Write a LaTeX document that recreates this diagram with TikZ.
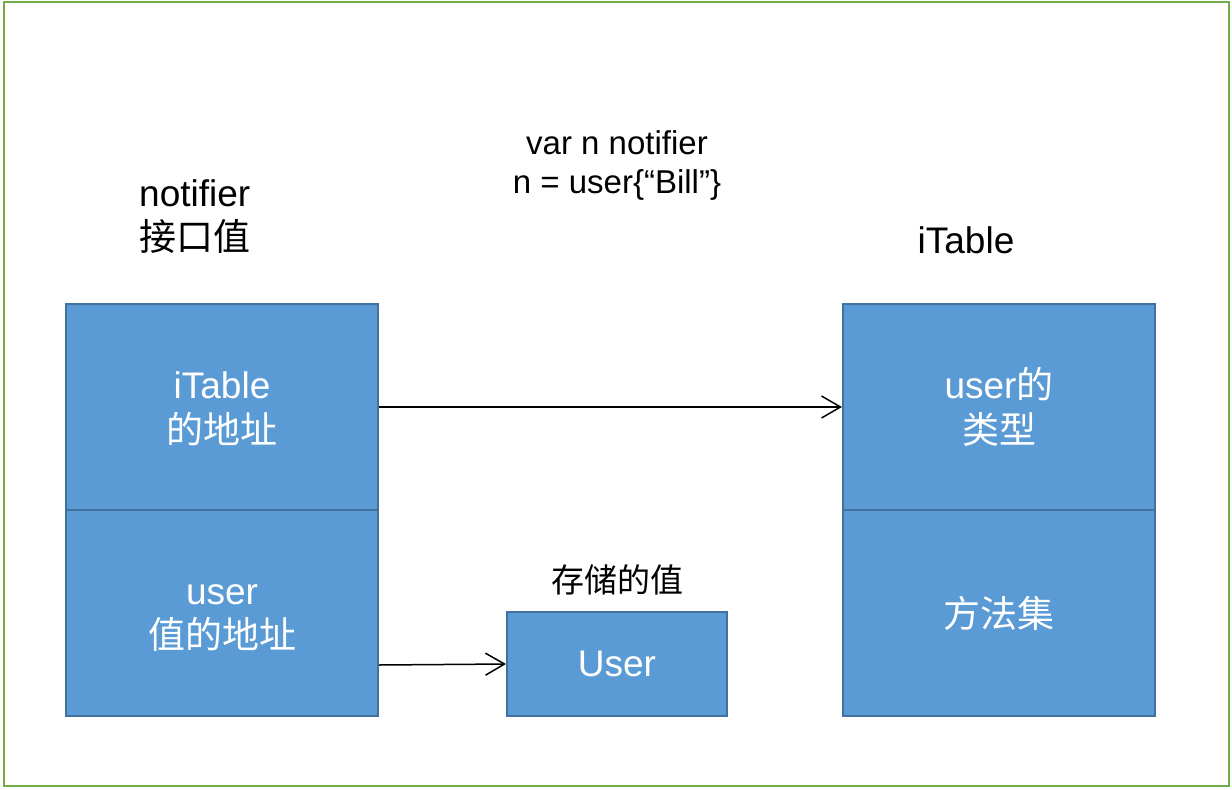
\documentclass[tikz,border=0pt]{standalone}
\usepackage{fontspec}
\setmainfont{Liberation Sans}
\newfontfamily\cjk{Noto Sans CJK SC}
\usetikzlibrary{arrows.meta}
\definecolor{boxblue}{HTML}{5B9BD5}
\definecolor{boxedge}{HTML}{41719C}
\definecolor{framegreen}{HTML}{70AD47}
\newcommand\capline{\rule{0pt}{30pt}}
\begin{document}
\begin{tikzpicture}[x=1pt,y=-1pt,
    cell/.style={draw=boxedge,fill=boxblue,line width=2pt,text=white,align=center,
      minimum width=312pt,minimum height=206pt,inner sep=0pt,font=\fontsize{37}{44.5}\selectfont},
    heading/.style={align=center,inner sep=0pt,font=\fontsize{37}{44}\selectfont},
    code/.style={align=center,inner sep=0pt,font=\fontsize{33}{39}\selectfont},
    link/.style={-{Straight Barb[length=19pt,width=22pt]},line width=1.5pt}]
                \useasboundingbox (0,0) rectangle (1232,790) ;
                \draw [framegreen,line width=2pt] (4,2) rectangle (1229,786) ;
                \node [heading,anchor=west,align=left] (iface) at (139,217) {notifier\\{\cjk 接口值}} ;
                \node [code] (decl) at (617,165) {var n notifier\\n = user\{“Bill”\}} ;
                \node [heading] (tabname) at (966,240) {iTable} ;
                \node [cell] (tabaddr) at (222,407) {\capline iTable\\{\cjk 的地址}} ;
                \node [cell] (valaddr) at (222,613) {\capline user\\{\cjk 值的地址}} ;
                \node [cell] (utype) at (999,407) {\capline user{\cjk 的}\\{\cjk 类型}} ;
                \node [cell] (mset) at (999,613) {{\cjk 方法集}} ;
                \node [cell,minimum width=220pt,minimum height=104pt] (uval) at (617,664) {User} ;
                \node [code] (stored) at (617,580) {{\cjk 存储的值}} ;
                \coordinate (valtail) at ([yshift=-52pt]valaddr.east) ;
                \draw [link] (tabaddr) -- (utype) ;
                \draw [link] (valtail) -- (uval.west) ;
            \end{tikzpicture}
\end{document}
